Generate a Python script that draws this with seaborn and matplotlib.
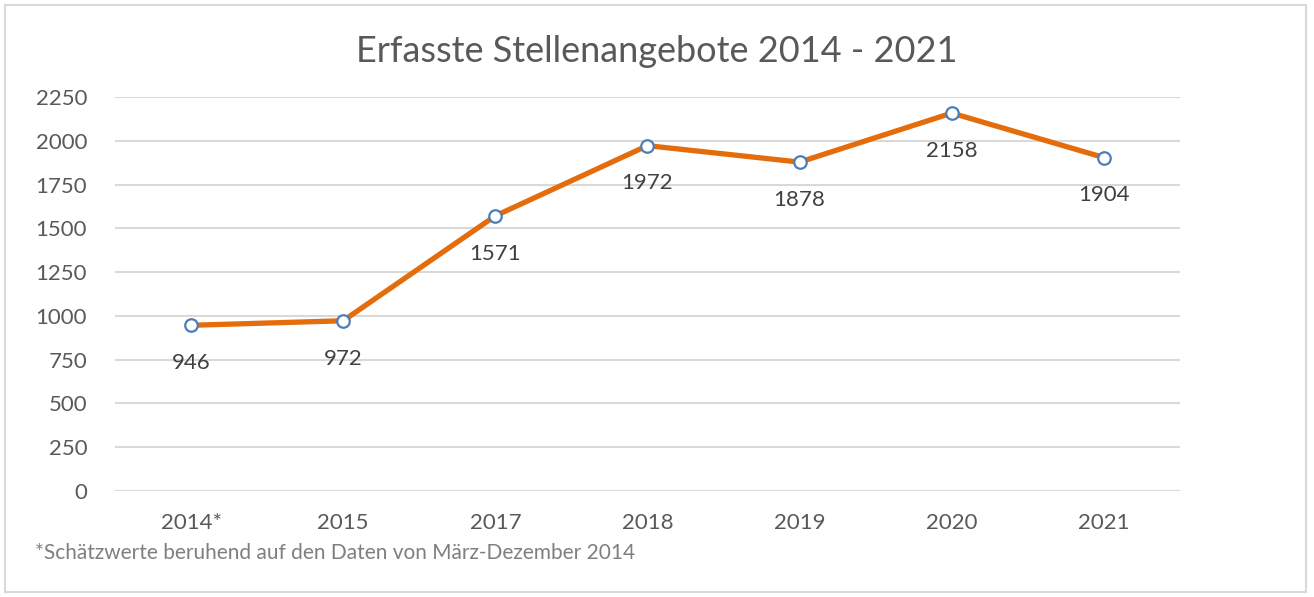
import seaborn as sns
import matplotlib.pyplot as plt
import pandas as pd
from matplotlib.patches import Rectangle

# data
years = ["2014*", "2015", "2017", "2018", "2019", "2020", "2021"]
offers = [946, 972, 1571, 1972, 1878, 2158, 1904]
y_ticks = [0, 250, 500, 750, 1000, 1250, 1500, 1750, 2000, 2250]

df = pd.DataFrame({"Jahr": years, "Stellenangebote": offers})

sns.set_style("white")
plt.rcParams["font.family"] = ["Lato", "DejaVu Sans"]

fig = plt.figure(figsize=(13.14, 5.97), dpi=100)
ax = fig.add_axes([0.0875, 0.1776, 0.8105, 0.66])

sns.lineplot(data=df, x="Jahr", y="Stellenangebote", sort=False, ax=ax,
             color="#E46C0A", linewidth=3.8, marker="o", markersize=9,
             markerfacecolor="white", markeredgecolor="#4A7EBB",
             markeredgewidth=1.6)

for i, v in enumerate(offers):
    ax.annotate(str(v), (i, v), xytext=(0, -20), textcoords="offset points",
                ha="center", va="top", fontsize=16, color="#404040")

ax.set_ylim(0, 2250)
ax.set_xlim(-0.5, len(years) - 0.5)
ax.set_yticks(y_ticks)
ax.yaxis.grid(True, color="#D9D9D9", linewidth=1.5)
ax.set_axisbelow(True)
for s in ax.spines.values():
    s.set_visible(False)
ax.tick_params(axis="both", length=0, labelsize=16, labelcolor="#595959")
ax.tick_params(axis="y", pad=20)
ax.tick_params(axis="x", pad=16)
ax.set_xlabel("")
ax.set_ylabel("")

fig.text(0.5, 0.913, "Erfasste Stellenangebote 2014 - 2021", ha="center",
         va="center", fontsize=26, color="#595959")
fig.text(0.027, 0.073, "*Schätzwerte beruhend auf den Daten von März-Dezember 2014",
         ha="left", va="center", fontsize=15, color="#7F7F7F")

fig.patches.append(Rectangle((0.004, 0.008), 0.99, 0.983, transform=fig.transFigure,
                             fill=False, edgecolor="#D9D9D9", linewidth=1.5))

fig.savefig("out.png", dpi=100)
